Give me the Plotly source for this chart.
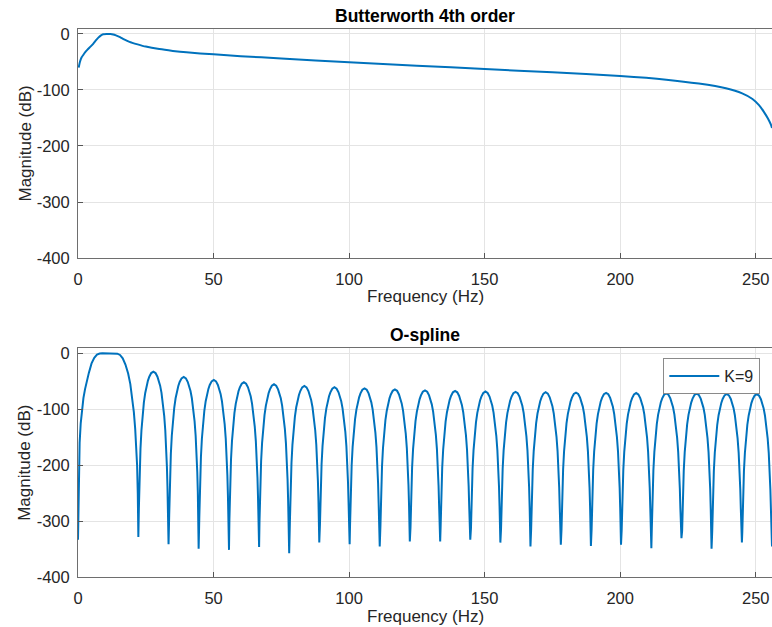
import plotly.graph_objects as go

# ---- Butterworth 4th order band-pass: magnitude response (dB) ----
bw_freq = [0.25, 0.7, 1.3, 2.0, 2.6, 3.5, 4.5, 5.6, 6.5, 7.5, 8.5, 9.3, 10.5, 12.0,
           13.0, 14.0, 15.5, 17.0, 19.0, 22.0, 25.0, 30.0, 35.0, 40.0, 50.0, 60.0,
           75.0, 100.0, 125.0, 150.0, 175.0, 200.0, 217.0, 229.0, 239.0,
           245.0, 248.8, 251.2, 253.0, 254.5, 255.6, 256.0]
bw_db = [-60, -50, -42, -37, -33, -28, -23, -17.5, -12, -6.5, -2.5, -0.5, 0, 0,
         -0.8, -2.5, -5.5, -9.5, -14, -18.5, -22.5, -27, -30.2, -32.8, -36.4, -39.6,
         -43.8, -50.5, -56.5, -62.5, -68.5, -75, -81.5, -88.5, -97,
         -106, -116, -127, -139, -151, -162, -168]

# ---- O-spline (K=9): main lobe ----
os_main_freq = [0, 0.15, 0.35, 0.6, 1.0, 1.5, 2.0, 2.6, 3.3, 4.0, 5.0, 6.0, 7.0, 8.0,
                9.0, 11.0, 13.5, 14.5, 15.5, 16.5, 17.5, 18.5, 19.3, 20.0, 20.6,
                21.1, 21.5, 21.8, 22.05, 22.26]
os_main_db = [-333, -260, -200, -160, -125, -97, -80, -64, -48, -35, -18, -8, -2.5, -0.5,
              0, 0, 0, -0.7, -3, -9, -20, -36, -55, -78, -105,
              -135, -165, -200, -250, -328]

# ---- O-spline side lobes: peaks and nulls ----
os_peak_freq = [27.8, 39.0, 50.1, 61.2, 72.3, 83.5, 94.6, 105.7, 116.9, 128.0, 139.1,
                150.3, 161.4, 172.5, 183.7, 194.8, 205.9, 217.0, 228.2, 239.3, 250.4]
os_peak_db = [-32.8, -42.3, -47.6, -51.8, -55.4, -58.4, -60.7, -62.6, -64.5, -66.2, -67.2,
              -68.3, -68.8, -69.6, -70.2, -70.6, -71.0, -71.5, -72.0, -72.6, -73.0]
os_null_freq = [22.26, 33.4, 44.5, 55.7, 66.8, 77.9, 89.0, 100.2, 111.3, 122.4, 133.6,
                144.7, 155.8, 166.9, 178.1, 189.2, 200.3, 211.5, 222.6, 233.7, 244.9, 256.0]
os_null_db = [-328, -341, -349, -351, -346, -357, -338, -341, -345, -336, -336,
              -333, -338, -345, -342, -344, -342, -348, -330, -349, -338, -345]

# side-lobe shape: distance from the lobe peak (Hz) and level below the peak (dB)
lobe_offset = [0.0, 0.8, 1.5, 2.0, 2.5, 3.0, 3.5, 4.0, 4.4, 4.75, 5.0, 5.2, 5.35]
lobe_drop = [0, 2.5, 9, 16, 25, 38, 55, 79, 105, 137, 170, 205, 245]

x_ticks = [0, 50, 100, 150, 200, 250]
y_ticks = [0, -100, -200, -300, -400]
y_tick_text = ["0", "-100", "-200", "-300", "-400"]

# assemble the O-spline trace: main lobe, then each side lobe between its nulls
os_freq = list(os_main_freq)
os_db = list(os_main_db)
for i, (pf, pdb) in enumerate(zip(os_peak_freq, os_peak_db)):
    left = [(pf - o, pdb - d) for o, d in zip(lobe_offset[::-1], lobe_drop[::-1])]
    right = [(pf + o, pdb - d) for o, d in zip(lobe_offset[1:], lobe_drop[1:])]
    for f, v in left + right:
        os_freq.append(f)
        os_db.append(v)
    os_freq.append(os_null_freq[i + 1])
    os_db.append(os_null_db[i + 1])

BLUE = "#0072BD"
FONT = "Liberation Sans, Arial, Helvetica, sans-serif"
TXT = "#262626"
W, H = 772, 627

fig = go.Figure()
fig.add_trace(go.Scatter(x=bw_freq, y=bw_db, mode="lines", xaxis="x", yaxis="y",
                         line=dict(color=BLUE, width=2, shape="spline", smoothing=0.5),
                         showlegend=False))
fig.add_trace(go.Scatter(x=os_freq, y=os_db, mode="lines", xaxis="x2", yaxis="y2",
                         name="K=9", line=dict(color=BLUE, width=2), showlegend=True))

axis_common = dict(
    showline=True, linecolor="#6e6e6e", linewidth=1,
    showgrid=True, gridcolor="#e4e4e4", gridwidth=1,
    ticks="inside", ticklen=5, tickcolor="#555555", tickwidth=1,
    tickfont=dict(family=FONT, size=16.5, color=TXT),
    zeroline=False, automargin=False,
)

top_dom = [1 - 258 / H, 1 - 29 / H]
bot_dom = [1 - 577.3 / H, 1 - 348.3 / H]

fig.update_layout(
    width=W, height=H,
    margin=dict(l=78, r=0, t=0, b=0),
    paper_bgcolor="white", plot_bgcolor="white",
    xaxis=dict(domain=[0, 1], range=[0, 256], anchor="y", tickvals=x_ticks,
               mirror=True, ticklabelstandoff=6, **axis_common),
    yaxis=dict(domain=top_dom, range=[-400, 8.9], anchor="x", tickvals=y_ticks,
               ticktext=y_tick_text, ticklabelstandoff=4, **axis_common),
    xaxis2=dict(domain=[0, 1], range=[0, 256], anchor="y2", tickvals=x_ticks,
                mirror=True, ticklabelstandoff=6, **axis_common),
    yaxis2=dict(domain=bot_dom, range=[-400, 8.9], anchor="x2", tickvals=y_ticks,
                ticktext=y_tick_text, ticklabelstandoff=4, **axis_common),
    legend=dict(x=759 / W, y=1 - 358 / H, xref="paper", yref="paper",
                xanchor="right", yanchor="top", bgcolor="white",
                bordercolor="#8a8a8a", borderwidth=1, itemwidth=50,
                font=dict(family=FONT, size=16, color=TXT)),
)

def ann(text, x, y, size, bold=False, angle=0):
    fig.add_annotation(text=f"<b>{text}</b>" if bold else text,
                       x=x, y=y, xref="paper", yref="paper",
                       xanchor="center", yanchor="middle", showarrow=False,
                       textangle=angle,
                       font=dict(family=FONT, size=size, color="black" if bold else TXT))

# titles
ann("Butterworth 4th order", (425 - 78) / (W - 78), 1 - 16 / H, 17.5, bold=True)
ann("O-spline", (425 - 78) / (W - 78), 1 - 335 / H, 17.5, bold=True)
# x labels
ann("Frequency (Hz)", (425 - 78) / (W - 78), 1 - 297 / H, 17)
ann("Frequency (Hz)", (425 - 78) / (W - 78), 1 - 616 / H, 17)
# y labels
ann("Magnitude (dB)", (25 - 78) / (W - 78), 1 - 143.5 / H, 17, angle=-90)
ann("Magnitude (dB)", (25 - 78) / (W - 78), 1 - 462.8 / H, 17, angle=-90)

fig.write_html("out.html")
